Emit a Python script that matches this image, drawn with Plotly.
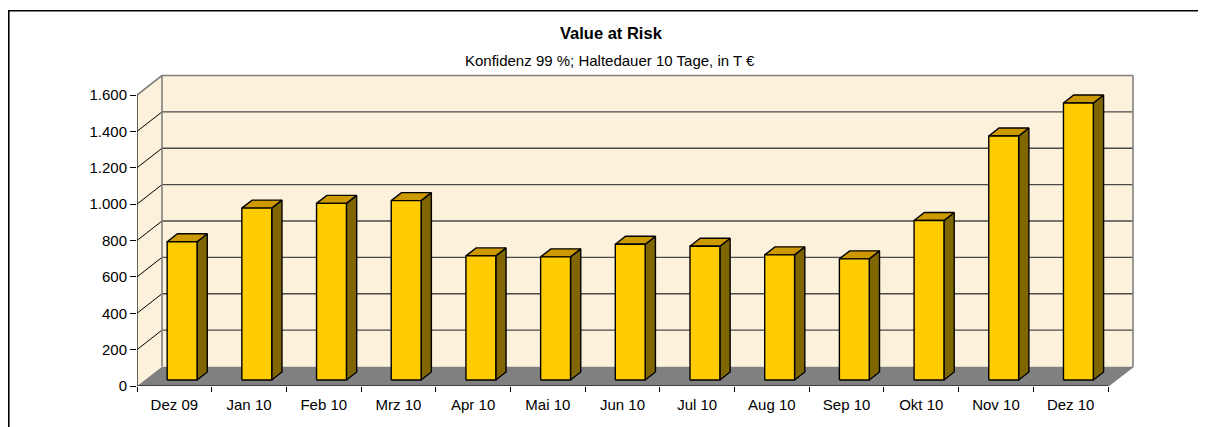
import plotly.graph_objects as go

months = ["Dez 09", "Jan 10", "Feb 10", "Mrz 10", "Apr 10", "Mai 10", "Jun 10",
          "Jul 10", "Aug 10", "Sep 10", "Okt 10", "Nov 10", "Dez 10"]
var_values = [760, 945, 971, 986, 682, 677, 746, 735, 688, 666, 877, 1341, 1523]

y_ticks = [0, 200, 400, 600, 800, 1000, 1200, 1400, 1600]
y_tick_labels = ["0", "200", "400", "600", "800", "1.000", "1.200", "1.400", "1.600"]

TITLE = "Value at Risk"
SUBTITLE = "Konfidenz 99 %; Haltedauer 10 Tage, in T €"

# page body adds an 8px margin, so the figure is 8px smaller and all
# target positions below are screen pixels
OFF = 8
W, H = 1206 - OFF, 427 - OFF
M_L, M_R, M_T, M_B = 137 - OFF, 60, 60 - OFF, 41
PLOT_W, PLOT_H = W - M_L - M_R, H - M_T - M_B
PX_PER_CAT = 971 / 13
PX_PER_VAL = 291 / 1600

# pseudo-3d geometry (oblique projection)
DEPTH_X = 25 / PX_PER_CAT     # wall depth in category units
DEPTH_Y = 19.5 / PX_PER_VAL   # wall depth in value units
BAR_W = 0.40
BAR_Z0, BAR_Z1 = 0.31, 0.72   # bar front / back as share of depth

FONT = "Liberation Sans, Arial, sans-serif"
CREAM = "#FCF1DB"
WALL_EDGE = "#808080"
GRID = "#4a4a4a"

n = len(months)
x_lo, x_hi = -0.5, n - 0.5
y_top = y_ticks[-1]


def polys(shapes):
    xs, ys = [], []
    for pts in shapes:
        for px, py in pts + [pts[0]]:
            xs.append(px)
            ys.append(py)
        xs.append(None)
        ys.append(None)
    return xs, ys


def segs(lines):
    xs, ys = [], []
    for (ax, ay), (bx, by) in lines:
        xs += [ax, bx, None]
        ys += [ay, by, None]
    return xs, ys


fig = go.Figure()


def add_fill(shapes, fill, line_color=None, line_width=0):
    xs, ys = polys(shapes)
    fig.add_trace(go.Scatter(
        x=xs, y=ys, mode="lines", fill="toself", fillcolor=fill,
        line={"color": line_color or fill, "width": line_width},
        hoverinfo="skip", showlegend=False,
    ))


def add_lines(lines, color, width=1):
    xs, ys = segs(lines)
    fig.add_trace(go.Scatter(
        x=xs, y=ys, mode="lines", line={"color": color, "width": width},
        hoverinfo="skip", showlegend=False,
    ))


# floor
add_fill([[(x_lo, 0), (x_hi, 0), (x_hi + DEPTH_X, DEPTH_Y), (x_lo + DEPTH_X, DEPTH_Y)]], "#808080")
# left side wall
add_fill([[(x_lo, 0), (x_lo, y_top), (x_lo + DEPTH_X, y_top + DEPTH_Y), (x_lo + DEPTH_X, DEPTH_Y)]], CREAM)
# back wall
add_fill([[(x_lo + DEPTH_X, DEPTH_Y), (x_hi + DEPTH_X, DEPTH_Y),
           (x_hi + DEPTH_X, y_top + DEPTH_Y), (x_lo + DEPTH_X, y_top + DEPTH_Y)]], CREAM)

# gridlines on back wall + diagonals on side wall
inner = y_ticks[1:-1]
add_lines([((x_lo + DEPTH_X, v + DEPTH_Y), (x_hi + DEPTH_X, v + DEPTH_Y)) for v in inner], GRID, 1.3)
add_lines([((x_lo, v), (x_lo + DEPTH_X, v + DEPTH_Y)) for v in inner], "black", 1)

# wall outlines
add_lines([
    ((x_lo, y_top), (x_lo + DEPTH_X, y_top + DEPTH_Y)),
    ((x_lo + DEPTH_X, y_top + DEPTH_Y), (x_hi + DEPTH_X, y_top + DEPTH_Y)),
    ((x_hi + DEPTH_X, y_top + DEPTH_Y), (x_hi + DEPTH_X, DEPTH_Y)),
    ((x_lo + DEPTH_X, y_top + DEPTH_Y), (x_lo + DEPTH_X, DEPTH_Y)),
    ((x_hi, 0), (x_hi + DEPTH_X, DEPTH_Y)),
], WALL_EDGE, 1.6)

# axis lines
add_lines([((x_lo, 0), (x_lo, y_top)), ((x_lo, 0), (x_hi, 0))], "black", 1.2)

# bars
dx0, dy0 = BAR_Z0 * DEPTH_X, BAR_Z0 * DEPTH_Y
dx1, dy1 = BAR_Z1 * DEPTH_X, BAR_Z1 * DEPTH_Y
h = BAR_W / 2
fronts, sides, tops = [], [], []
for i, v in enumerate(var_values):
    fronts.append([(i - h + dx0, dy0), (i + h + dx0, dy0), (i + h + dx0, v + dy0), (i - h + dx0, v + dy0)])
    sides.append([(i + h + dx0, dy0), (i + h + dx1, dy1), (i + h + dx1, v + dy1), (i + h + dx0, v + dy0)])
    tops.append([(i - h + dx0, v + dy0), (i + h + dx0, v + dy0), (i + h + dx1, v + dy1), (i - h + dx1, v + dy1)])
add_fill(sides, "#806600", "black", 1.4)
add_fill(tops, "#CC9900", "black", 1.4)
add_fill(fronts, "#FFCC00", "black", 1.4)


# screen pixel -> paper coords
def to_px(px):
    return (px - 137) / PLOT_W


def to_py(py):
    return (386 - py) / PLOT_H


fig.add_annotation(text=f"<b>{TITLE}</b>", x=to_px(611), y=to_py(33), xref="paper", yref="paper",
                   xanchor="center", yanchor="middle", showarrow=False,
                   font={"size": 16.5, "color": "black", "family": FONT})
fig.add_annotation(text=SUBTITLE, x=to_px(610), y=to_py(60), xref="paper", yref="paper",
                   xanchor="center", yanchor="middle", showarrow=False,
                   font={"size": 15, "color": "black", "family": FONT})

# outer chart frame
fig.add_shape(type="rect", xref="paper", yref="paper", layer="below",
              x0=to_px(8.8), y0=to_py(450), x1=to_px(1230), y1=to_py(10.8),
              line={"color": "black", "width": 1.6}, fillcolor="rgba(0,0,0,0)")

fig.update_layout(
    width=W, height=H,
    margin={"l": M_L, "r": M_R, "t": M_T, "b": M_B, "pad": 0},
    paper_bgcolor="white", plot_bgcolor="white",
    font={"family": FONT, "size": 15, "color": "black"},
    showlegend=False,
    xaxis={
        "range": [x_lo, x_lo + PLOT_W / PX_PER_CAT],
        "tickmode": "array", "tickvals": list(range(n)), "ticktext": months,
        "ticks": "outside", "ticklen": 5, "tickcolor": "rgba(0,0,0,0)",
        "minor": {"tickmode": "array", "tickvals": [i - 0.5 for i in range(n + 1)],
                  "ticks": "outside", "ticklen": 5, "tickcolor": "black", "tickwidth": 1.2},
        "showgrid": False, "zeroline": False, "showline": False, "fixedrange": True,
    },
    yaxis={
        "range": [0, PLOT_H / PX_PER_VAL],
        "tickmode": "array", "tickvals": y_ticks, "ticktext": y_tick_labels,
        "ticks": "outside", "ticklen": 6, "tickcolor": "black", "tickwidth": 1.2,
        "showgrid": False, "zeroline": False, "showline": False, "fixedrange": True,
    },
)

fig.write_html("out.html")
